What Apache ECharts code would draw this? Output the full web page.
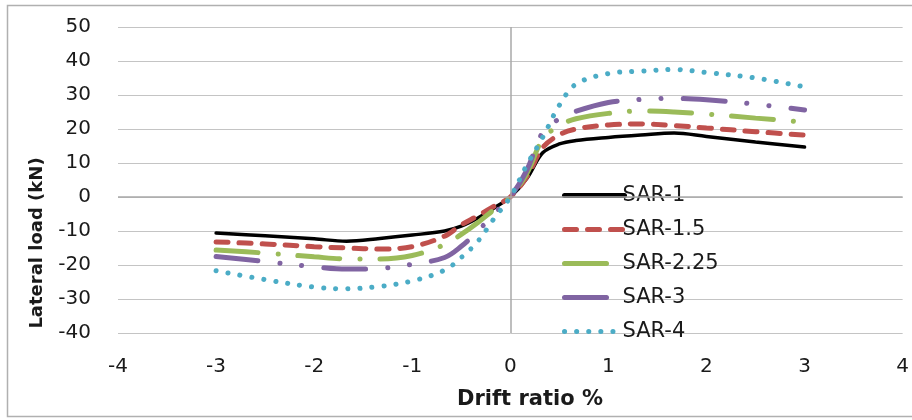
<!DOCTYPE html>
<html lang="en" style="height: 100%">
<head>
  <meta charset="utf-8">
</head>
<body style="height: 100%; margin: 0; background: #fff">
  <div id="container" style="width: 912px; height: 420px"></div>

  <script type="text/javascript" src="https://cdn.jsdelivr.net/npm/echarts@6/dist/echarts.min.js"></script>
  <script type="text/javascript">
    // drift ratio (%) sampled along every curve
    var drift = [-3, -2.5, -2, -1.67, -1.33, -1, -0.67, -0.5, -0.33, -0.17, 0, 0.17, 0.33, 0.5, 0.67, 1, 1.33, 1.67, 2, 2.5, 3];

    // lateral load (kN)
    var sar1   = [-10.6, -11.4, -12.3, -13.0, -12.2, -11.2, -10.0, -8.6, -6.2, -3.3, 0, 5.5, 13.0, 15.6, 16.6, 17.5, 18.2, 18.8, 17.8, 16.2, 14.7];
    var sar1_5 = [-13.2, -13.8, -14.6, -15.0, -15.3, -14.6, -11.5, -8.2, -5.5, -2.8, 0, 6.0, 14.5, 18.3, 20.0, 21.2, 21.5, 21.0, 20.3, 19.2, 18.2];
    var sar2_25 = [-15.6, -16.5, -17.6, -18.2, -18.2, -17.2, -14.0, -11.0, -7.5, -3.8, 0, 7.0, 17.0, 21.0, 23.0, 24.6, 25.3, 25.0, 24.4, 23.2, 22.0];
    var sar3   = [-17.5, -19.0, -20.5, -21.2, -21.0, -19.8, -17.8, -14.5, -10.0, -5.0, 0, 8.0, 19.0, 23.0, 25.2, 27.8, 28.7, 29.0, 28.6, 27.3, 25.6];
    var sar4   = [-21.7, -24.3, -26.5, -27.0, -26.3, -24.7, -21.5, -17.8, -13.0, -6.5, 0, 9.5, 17.5, 27.0, 33.2, 36.3, 37.0, 37.5, 36.6, 35.0, 32.4];

    var names = ['SAR-1', 'SAR-1.5', 'SAR-2.25', 'SAR-3', 'SAR-4'];
    var xTicks = [-4, 4, 1];
    var yTicks = [-40, 50, 10];

    function pairs(ys) {
      return drift.map(function (x, i) { return [x, ys[i]]; });
    }

    var dom = document.getElementById('container');
    var myChart = echarts.init(dom, null, { renderer: 'canvas' });
    var font = 'DejaVu Sans';

    function curve(name, ys, color, width, dash) {
      return {
        name: name,
        type: 'line',
        data: pairs(ys),
        smooth: 0.35,
        symbol: 'none',
        showSymbol: false,
        z: 3,
        lineStyle: { color: color, width: width, type: dash, cap: 'round' },
        itemStyle: { color: color }
      };
    }

    var option = {
      animation: false,
      backgroundColor: '#fff',
      grid: { left: 118, right: 9, top: 27, bottom: 87 },
      legend: {
        data: names,
        orient: 'vertical',
        left: 557,
        top: 180,
        itemWidth: 60,
        itemHeight: 20,
        itemGap: 13,
        itemStyle: { opacity: 0, borderWidth: 0 },
        lineStyle: { width: 5, cap: 'round' },
        textStyle: { fontFamily: font, fontSize: 21, color: '#1a1a1a', lineHeight: 20, padding: [0, 0, 0, -7] }
      },
      xAxis: {
        type: 'value',
        min: xTicks[0], max: xTicks[1], interval: xTicks[2],
        axisLine: { show: false },
        axisTick: { show: false },
        splitLine: { show: false },
        axisLabel: { fontFamily: font, fontSize: 20, color: '#1a1a1a', margin: 24 }
      },
      yAxis: {
        type: 'value',
        min: yTicks[0], max: yTicks[1], interval: yTicks[2],
        axisLine: { show: false },
        axisTick: { show: false },
        splitLine: { lineStyle: { color: '#c4c4c4', width: 1 } },
        axisLabel: { fontFamily: font, fontSize: 20, color: '#1a1a1a', margin: 27 }
      },
      graphic: [
        {
          type: 'rect', silent: true,
          shape: { x: 7.5, y: 5.5, width: 930, height: 411 },
          style: { fill: 'none', stroke: '#b0b0b0', lineWidth: 1.5 }
        },
        {
          type: 'text', left: 457, top: 389,
          style: { text: 'Drift ratio %', fontFamily: font, fontSize: 21, fontWeight: 'bold', fill: '#1a1a1a' }
        },
        {
          type: 'text', x: 37, y: 243, rotation: Math.PI / 2,
          style: { text: 'Lateral load (kN)', fontFamily: font, fontSize: 18, fontWeight: 'bold', fill: '#1a1a1a', align: 'center', verticalAlign: 'middle' }
        }
      ],
      series: [
        {
          type: 'line',
          data: [],
          z: 1,
          markLine: {
            silent: true,
            symbol: 'none',
            label: { show: false },
            lineStyle: { color: '#a8a8a8', width: 1.5, type: 'solid' },
            data: [{ xAxis: 0 }, { yAxis: 0 }]
          }
        },
        curve(names[0], sar1, '#000000', 3.5, 'solid'),
        curve(names[1], sar1_5, '#c0504d', 5, [12, 11]),
        curve(names[2], sar2_25, '#9bbb59', 5, [42, 20, 0.1, 20]),
        curve(names[3], sar3, '#8064a2', 5, [42, 22, 0.1, 22, 0.1, 22]),
        curve(names[4], sar4, '#4bacc6', 5, [0.1, 12])
      ]
    };

    myChart.setOption(option);
    window.addEventListener('resize', myChart.resize);
  </script>
</body>
</html>
